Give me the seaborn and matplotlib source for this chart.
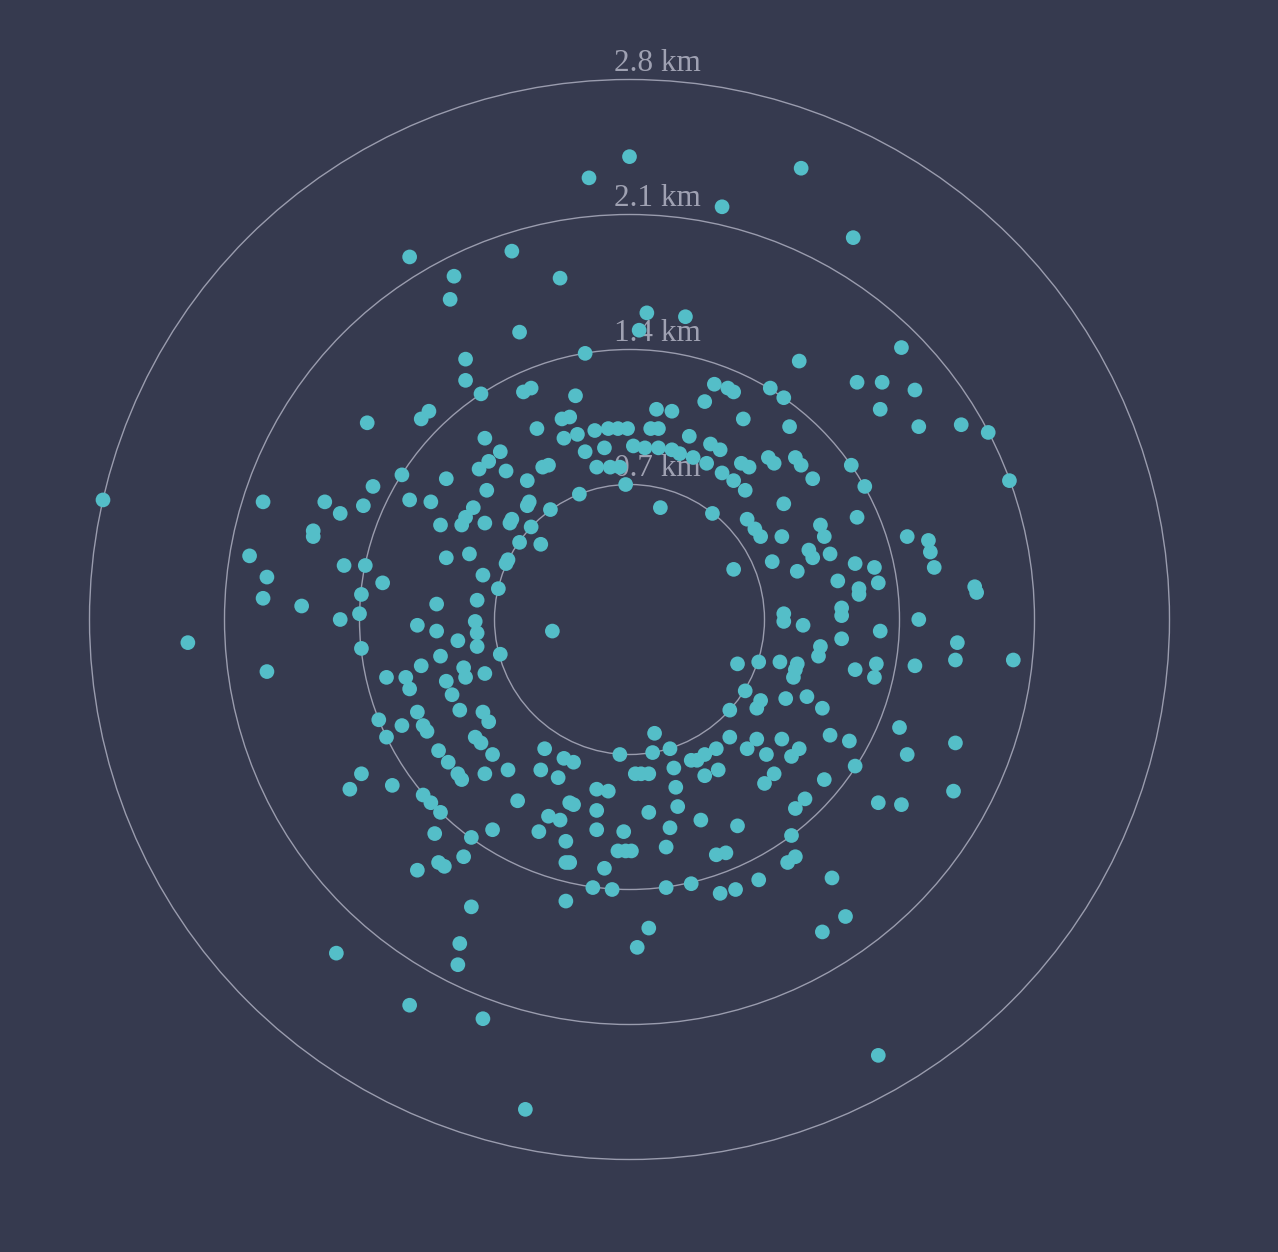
import pandas as pd
import seaborn as sns
import matplotlib
matplotlib.use('Agg')
import matplotlib.pyplot as plt
from matplotlib.patches import Circle

# Distance rings (km)
ring_km = [0.7, 1.4, 2.1, 2.8]
ring_labels = ['0.7 km', '1.4 km', '2.1 km', '2.8 km']

# Positions of each point relative to the centre: east / north offset in km
# outer points (north half)
outer_east = [-0.00, -0.21, 0.89, 0.48, 1.16, -1.14, -0.61, -0.91, -0.36, -0.93,
              0.09, 0.29, 0.05, -0.57, 1.41, -0.23, -0.85, 0.88, -0.85, -0.77,
              -0.55, -0.51, -0.28, -1.04, -1.08, -1.36, 0.44, 0.51, 0.54, 0.73,
              0.80, 1.18, 1.31, 1.48, 1.30, 1.50, 1.72, 1.86, 0.39, 0.14,
              0.22, 0.59, 0.83]
outer_north = [2.40, 2.29, 2.34, 2.14, 1.98, 1.88, 1.91, 1.78, 1.77, 1.66,
               1.59, 1.57, 1.50, 1.49, 1.41, 1.38, 1.35, 1.34, 1.24, 1.17,
               1.18, 1.20, 1.16, 1.08, 1.04, 1.02, 1.22, 1.20, 1.18, 1.20,
               1.15, 1.23, 1.23, 1.19, 1.09, 1.00, 1.01, 0.97, 1.13, 1.09,
               1.08, 1.04, 1.00]

# band just above the inner ring
top_east = [-0.48, -0.35, -0.31, -0.34, -0.27, -0.18, -0.11, -0.06, -0.01, 0.11,
            0.15, 0.31, -0.75, -0.67, -0.23, -0.13, 0.02, 0.08, 0.15, 0.22,
            0.26, 0.33, 0.42, 0.47, 0.40, 0.48, 0.54, 0.58, 0.62, 0.60,
            0.72, 0.75, 0.86, 0.89, 0.95, 1.15, 1.22, 1.97, -0.73, -0.78,
            -0.64, -0.45, -0.42, -0.17, -0.10, -0.05, -0.02, -0.53, -0.26, 0.16,
            0.43]
top_north = [0.99, 1.04, 1.05, 0.94, 0.96, 0.98, 0.99, 0.99, 0.99, 0.99,
             0.99, 0.95, 0.94, 0.87, 0.87, 0.89, 0.90, 0.89, 0.89, 0.88,
             0.86, 0.84, 0.91, 0.88, 0.81, 0.76, 0.72, 0.81, 0.79, 0.67,
             0.84, 0.81, 0.84, 0.80, 0.73, 0.80, 0.69, 0.72, 0.82, 0.78,
             0.77, 0.79, 0.80, 0.79, 0.79, 0.79, 0.70, 0.72, 0.65, 0.58,
             0.55]

# west side
west_east = [-1.18, -0.95, -1.33, -1.50, -1.38, -1.14, -1.03, -0.74, -0.81, -0.85,
             -0.87, -0.98, -0.75, -0.53, -0.52, -0.61, -0.62, -0.41, -0.51, -0.57,
             -0.46, -0.64, -0.63, -0.68, -0.76, -0.83, -0.95, -1.37, -1.48, -1.28,
             -1.39, -1.40, -1.50, -1.00, -0.79, -0.80, -0.79, -1.10, -1.00, -0.40,
             -1.58, -1.64, -1.64, -1.90, -2.73, -1.97, -1.88, -1.90, -1.70, -1.39,
             -2.29, -1.88]
west_north = [0.75, 0.73, 0.69, 0.55, 0.59, 0.62, 0.61, 0.67, 0.58, 0.53,
              0.49, 0.49, 0.50, 0.59, 0.61, 0.52, 0.50, 0.57, 0.48, 0.40,
              0.39, 0.29, 0.31, 0.16, 0.23, 0.34, 0.32, 0.28, 0.28, 0.19,
              0.13, 0.03, 0.00, 0.08, 0.10, -0.01, -0.07, -0.03, -0.06, -0.06,
              0.61, 0.46, 0.43, 0.61, 0.62, 0.33, 0.22, 0.11, 0.07, -0.15,
              -0.12, -0.27]

# south-west quarter
sw_east = [-0.89, -0.79, -0.67, -0.98, -1.08, -1.26, -1.16, -1.14, -0.86, -0.85,
           -0.75, -0.95, -0.92, -0.88, -1.10, -1.07, -1.05, -1.30, -1.18, -1.26,
           -0.76, -0.73, -0.80, -0.77, -0.99, -0.71, -0.94, -0.89, -0.87, -0.75,
           -0.63, -1.39, -1.45, -1.23, -1.07, -1.03, -0.98, -1.01, -0.82, -0.86,
           -0.99, -0.96, -1.10, -0.71, -0.82, -0.44, -0.46, -0.37, -0.34, -0.29,
           -0.58, -0.42, -0.36, -0.31, -0.29, -0.47, -0.33, -0.33, -0.31, -0.17,
           -0.11, -0.17, -0.17, -0.05, -0.13, -0.19, -0.09, -0.33, -0.03, -0.06,
           -0.02, 0.01]
sw_north = [-0.11, -0.14, -0.18, -0.19, -0.24, -0.30, -0.30, -0.36, -0.25, -0.30,
            -0.28, -0.32, -0.39, -0.47, -0.48, -0.55, -0.58, -0.52, -0.55, -0.61,
            -0.48, -0.53, -0.61, -0.64, -0.68, -0.70, -0.74, -0.80, -0.83, -0.80,
            -0.78, -0.80, -0.88, -0.86, -0.91, -0.95, -1.00, -1.11, -1.13, -1.23,
            -1.26, -1.28, -1.30, -1.09, -1.49, -0.67, -0.78, -0.82, -0.72, -0.74,
            -0.94, -1.02, -1.04, -0.95, -0.96, -1.10, -1.15, -1.26, -1.26, -0.88,
            -0.89, -0.99, -1.09, -0.70, -1.29, -1.39, -1.40, -1.46, -1.10, -1.20,
            -1.20, -1.20]

# south-east quarter
se_east = [1.10, 0.99, 0.98, 1.48, 1.28, 1.27, 1.17, 0.56, 0.67, 0.78,
           0.87, 0.86, 0.85, 0.60, 0.68, 0.66, 0.52, 0.81, 0.92, 1.00,
           1.40, 1.44, 1.04, 1.14, 1.17, 0.13, 0.12, 0.21, 0.23, 0.03,
           0.06, 0.10, 0.32, 0.35, 0.39, 0.45, 0.52, 0.46, 0.39, 0.61,
           0.66, 0.71, 0.79, 0.84, 0.88, 0.75, 0.70, 1.01, 0.91, 0.86,
           1.29, 1.41, 0.24, 0.25, 0.10, 0.37, 0.56, 0.21, 0.19, 0.45,
           0.50, 0.84, 0.86, 0.82, 0.19, 0.32, 0.47, 0.55, 0.67, 1.05]
se_north = [-0.10, -0.14, -0.19, -0.24, -0.23, -0.30, -0.26, -0.23, -0.22, -0.22,
            -0.23, -0.26, -0.30, -0.37, -0.42, -0.46, -0.47, -0.41, -0.40, -0.46,
            -0.56, -0.70, -0.60, -0.63, -0.76, -0.59, -0.69, -0.67, -0.77, -0.80,
            -0.80, -0.80, -0.73, -0.73, -0.70, -0.67, -0.61, -0.78, -0.81, -0.67,
            -0.62, -0.70, -0.62, -0.71, -0.67, -0.80, -0.85, -0.83, -0.93, -0.98,
            -0.95, -0.96, -0.87, -0.97, -1.00, -1.04, -1.07, -1.08, -1.18, -1.22,
            -1.21, -1.12, -1.23, -1.26, -1.39, -1.37, -1.42, -1.40, -1.35, -1.34]

# far south
south_east = [-1.52, -0.88, -0.89, -1.14, -0.76, -0.54, 0.10, 0.04, 1.12, 1.00, 1.29]
south_north = [-1.73, -1.68, -1.79, -2.00, -2.07, -2.54, -1.60, -1.70, -1.54, -1.62, -2.26]

# east side
east_east = [0.80, 1.18, 1.44, 1.55, 1.56, 1.58, 0.61, 0.65, 0.68, 0.79,
             0.99, 1.01, 0.93, 0.95, 1.04, 0.74, 0.87, 0.54, 1.17, 1.27,
             1.29, 1.08, 1.19, 1.19, 1.10, 1.10, 0.80, 0.80, 0.90, 1.30,
             1.50, 1.79, 1.80, 1.70, 1.69, 1.99, 1.69, 1.68]
east_north = [0.60, 0.53, 0.43, 0.41, 0.35, 0.27, 0.52, 0.47, 0.43, 0.43,
              0.49, 0.43, 0.36, 0.32, 0.34, 0.30, 0.25, 0.26, 0.29, 0.27,
              0.19, 0.20, 0.16, 0.13, 0.06, 0.02, 0.03, -0.01, -0.03, -0.06,
              0.00, 0.17, 0.14, -0.12, -0.21, -0.21, -0.64, -0.89]

east_km = outer_east + top_east + west_east + sw_east + se_east + south_east + east_east
north_km = outer_north + top_north + west_north + sw_north + se_north + south_north + east_north
df = pd.DataFrame({'east_km': east_km, 'north_km': north_km})

BG = '#363a4f'
POINT = '#54bec8'
RING = '#9a9cae'
LABEL = '#9fa1b2'

# output geometry: 1278x1252 px, centre at (629.5, 619.5), 0.7 km = 135 px
W, H = 1278, 1252
CX, CY = 629.5, 619.5
PX_PER_KM = 135 / 0.7

fig = plt.figure(figsize=(W / 100, H / 100), dpi=100, facecolor=BG)
ax = fig.add_axes([0, 0, 1, 1])
ax.set_facecolor(BG)

for r, lab in zip(ring_km, ring_labels):
    ax.add_patch(Circle((0, 0), r, fill=False, edgecolor=RING, linewidth=1.0, zorder=1))
    ax.text(0.146, r + 0.044, lab, ha='center', va='baseline', fontsize=22.5,
            family=['Liberation Serif', 'DejaVu Serif'], color=LABEL, zorder=2)

sns.scatterplot(data=df, x='east_km', y='north_km', s=112, color=POINT,
                edgecolor='none', linewidth=0, legend=False, ax=ax, zorder=3)

ax.set_xlim(-CX / PX_PER_KM, (W - CX) / PX_PER_KM)
ax.set_ylim(-(H - CY) / PX_PER_KM, CY / PX_PER_KM)
ax.axis('off')

fig.savefig('out.png', dpi=100, facecolor=BG)
